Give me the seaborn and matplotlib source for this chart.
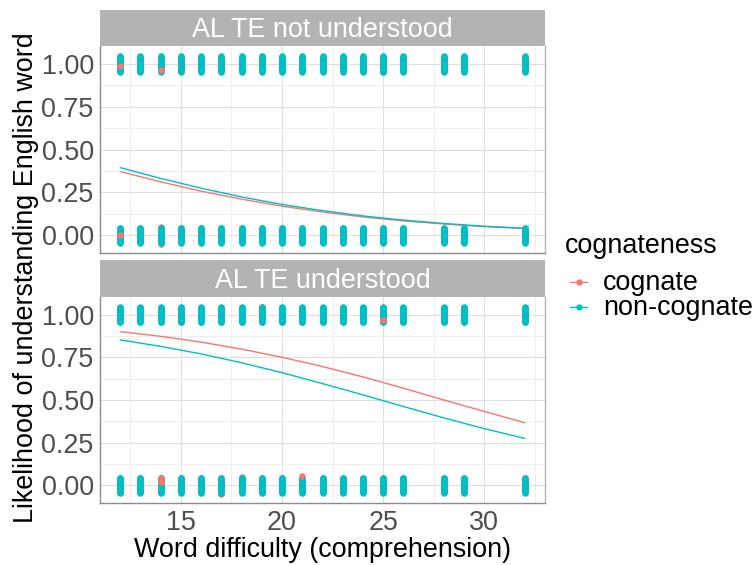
import numpy as np
import pandas as pd
import matplotlib
matplotlib.use("Agg")
import matplotlib.pyplot as plt
from matplotlib.lines import Line2D
import seaborn as sns

# ---- data -----------------------------------------------------------------
panels = ["AL TE not understood", "AL TE understood"]
groups = ["cognate", "non-cognate"]
palette = {"cognate": "#F8766D", "non-cognate": "#00BFC4"}

# word difficulty levels that occur in the item set
difficulty = [12, 13, 14, 15, 16, 17, 18, 19, 20, 21, 22, 23, 24, 25, 26, 28, 29, 32]

# fitted probability of understanding the English word
fit_x = [12, 14, 16, 18, 20, 22, 24, 26, 28, 30, 32]
fit_top_cog = [0.372, 0.312, 0.258, 0.211, 0.170, 0.136, 0.107, 0.084, 0.066, 0.051, 0.040]
fit_top_non = [0.395, 0.332, 0.275, 0.224, 0.180, 0.144, 0.113, 0.089, 0.069, 0.053, 0.041]
fit_bot_cog = [0.900, 0.873, 0.839, 0.798, 0.750, 0.696, 0.635, 0.569, 0.500, 0.433, 0.367]
fit_bot_non = [0.852, 0.814, 0.770, 0.718, 0.660, 0.596, 0.530, 0.462, 0.395, 0.332, 0.275]

# cognate responses (difficulty, outcome) that are not hidden by the non-cognate stacks
cog_top_x = [12, 14, 12]
cog_top_y = [1, 1, 0]
cog_top_jit = [-0.014, -0.033, 0.0]
cog_top_x_under = [16, 19, 25, 25, 14, 14, 15]
cog_top_y_under = [1, 1, 1, 1, 0, 0, 0]
cog_top_jit_under = [0.02, 0.046, 0.02, -0.048, 0.046, -0.048, 0.01]

cog_bot_x = [25, 14, 14, 21]
cog_bot_y = [1, 0, 0, 0]
cog_bot_jit = [-0.033, 0.045, 0.02, 0.052]
cog_bot_x_under = [12, 12, 14, 17, 19, 12, 12, 17, 18]
cog_bot_y_under = [1, 1, 1, 1, 1, 0, 0, 0, 0]
cog_bot_jit_under = [0.01, -0.02, 0.0, -0.03, 0.047, 0.006, -0.013, -0.05, 0.049]

# ---- style ----------------------------------------------------------------
sns.set_theme(style="white")
plt.rcParams["font.family"] = ["Liberation Sans", "DejaVu Sans"]

FS = 19.4
W, H = 752, 565
fig = plt.figure(figsize=(W / 100, H / 100), dpi=100)

def fx(px):
    return px / W

def fy(py):
    return 1 - py / H

# vertical spread used to show the stacked 0/1 responses
spread = np.linspace(-0.045, 0.045, 21)

layout = [
    # (strip top, strip bottom / panel top, panel bottom)
    (10, 46, 253.3),
    (260, 296.7, 503.3),
]
left_px, right_px = 100, 545

fits = [(fit_top_cog, fit_top_non), (fit_bot_cog, fit_bot_non)]
cog_front = [(cog_top_x, cog_top_y, cog_top_jit), (cog_bot_x, cog_bot_y, cog_bot_jit)]
cog_back = [(cog_top_x_under, cog_top_y_under, cog_top_jit_under),
            (cog_bot_x_under, cog_bot_y_under, cog_bot_jit_under)]

for i, (s_top, p_top, p_bot) in enumerate(layout):
    ax = fig.add_axes([fx(left_px), fy(p_bot), fx(right_px - left_px), (p_bot - p_top) / H])
    sax = fig.add_axes([fx(left_px), fy(p_top), fx(right_px - left_px), (p_top - s_top) / H])

    # strip
    sax.set_facecolor("#B3B3B3")
    sax.set_xticks([])
    sax.set_yticks([])
    for sp in sax.spines.values():
        sp.set_visible(False)
    sax.text(0.5, 0.24, panels[i], ha="center", va="baseline", color="white",
             fontsize=FS, transform=sax.transAxes)

    # cognate points mostly covered by the non-cognate stacks
    bx, by, bj = cog_back[i]
    back = pd.DataFrame({"difficulty": bx, "y": np.array(by) + np.array(bj)})
    sns.scatterplot(data=back, x="difficulty", y="y", color=palette["cognate"],
                    s=22, linewidth=0, ax=ax, legend=False, zorder=3)

    # non-cognate stacks
    rows = []
    for d in difficulty:
        for outcome in (0, 1):
            for off in spread:
                rows.append((d, outcome + off))
    non = pd.DataFrame(rows, columns=["difficulty", "y"])
    sns.scatterplot(data=non, x="difficulty", y="y", color=palette["non-cognate"],
                    s=22, linewidth=0, ax=ax, legend=False, zorder=4)

    # visible cognate points
    fxs, fys, fj = cog_front[i]
    front = pd.DataFrame({"difficulty": fxs, "y": np.array(fys) + np.array(fj)})
    sns.scatterplot(data=front, x="difficulty", y="y", color=palette["cognate"],
                    s=22, linewidth=0, ax=ax, legend=False, zorder=5)

    # fitted curves
    fc, fn = fits[i]
    curves = pd.DataFrame({
        "difficulty": fit_x * 2,
        "p": fc + fn,
        "cognateness": ["cognate"] * len(fit_x) + ["non-cognate"] * len(fit_x),
    })
    sns.lineplot(data=curves, x="difficulty", y="p", hue="cognateness", palette=palette,
                 linewidth=1.0, ax=ax, legend=False, zorder=6)

    ax.set_xlim(11, 33)
    ax.set_ylim(-0.105, 1.105)
    ax.set_xticks([15, 20, 25, 30])
    ax.set_xticks([12.5, 17.5, 22.5, 27.5, 32.5], minor=True)
    ax.set_yticks([0, 0.25, 0.5, 0.75, 1.0])
    ax.set_yticklabels(["0.00", "0.25", "0.50", "0.75", "1.00"])
    ax.set_yticks([0.125, 0.375, 0.625, 0.875], minor=True)
    ax.grid(True, which="major", color="#DEDEDE", linewidth=0.8, zorder=0)
    ax.grid(True, which="minor", color="#EDEDED", linewidth=0.6, zorder=0)
    ax.set_axisbelow(True)
    ax.set_xlabel("")
    ax.set_ylabel("")
    ax.tick_params(axis="both", which="major", length=3, width=0.8, color="#B3B3B3",
                   labelsize=FS, labelcolor="#4D4D4D", pad=1.5)
    ax.tick_params(axis="both", which="minor", length=0)
    ax.spines["top"].set_visible(False)
    ax.spines["right"].set_color("#B3B3B3")
    ax.spines["left"].set_color("#8C8C8C")
    ax.spines["bottom"].set_color("#8C8C8C")
    for sp in ax.spines.values():
        sp.set_linewidth(1.0)
    if i == 0:
        ax.tick_params(axis="x", labelbottom=False, length=0)

fig.text(fx(322.5), fy(557), "Word difficulty (comprehension)", ha="center",
         va="baseline", fontsize=FS, color="black")
fig.text(fx(33), fy(278), "Likelihood of understanding English word", ha="center",
         va="baseline", rotation=90, rotation_mode="anchor", fontsize=FS, color="black")

# legend
fig.text(fx(565), fy(253), "cognateness", ha="left", va="baseline", fontsize=FS,
         color="black")
for g, y_dot, y_base in [("cognate", 281.7, 289.5), ("non-cognate", 307.3, 315)]:
    fig.add_artist(Line2D([fx(570), fx(587)], [fy(y_dot), fy(y_dot)],
                          color=palette[g], linewidth=1.0, transform=fig.transFigure))
    fig.add_artist(Line2D([fx(578.5)], [fy(y_dot)], color=palette[g], marker="o",
                          markersize=3.5, linewidth=0, transform=fig.transFigure))
    fig.text(fx(603), fy(y_base), g, ha="left", va="baseline", fontsize=FS,
             color="black")

fig.savefig("out.png", dpi=100)
